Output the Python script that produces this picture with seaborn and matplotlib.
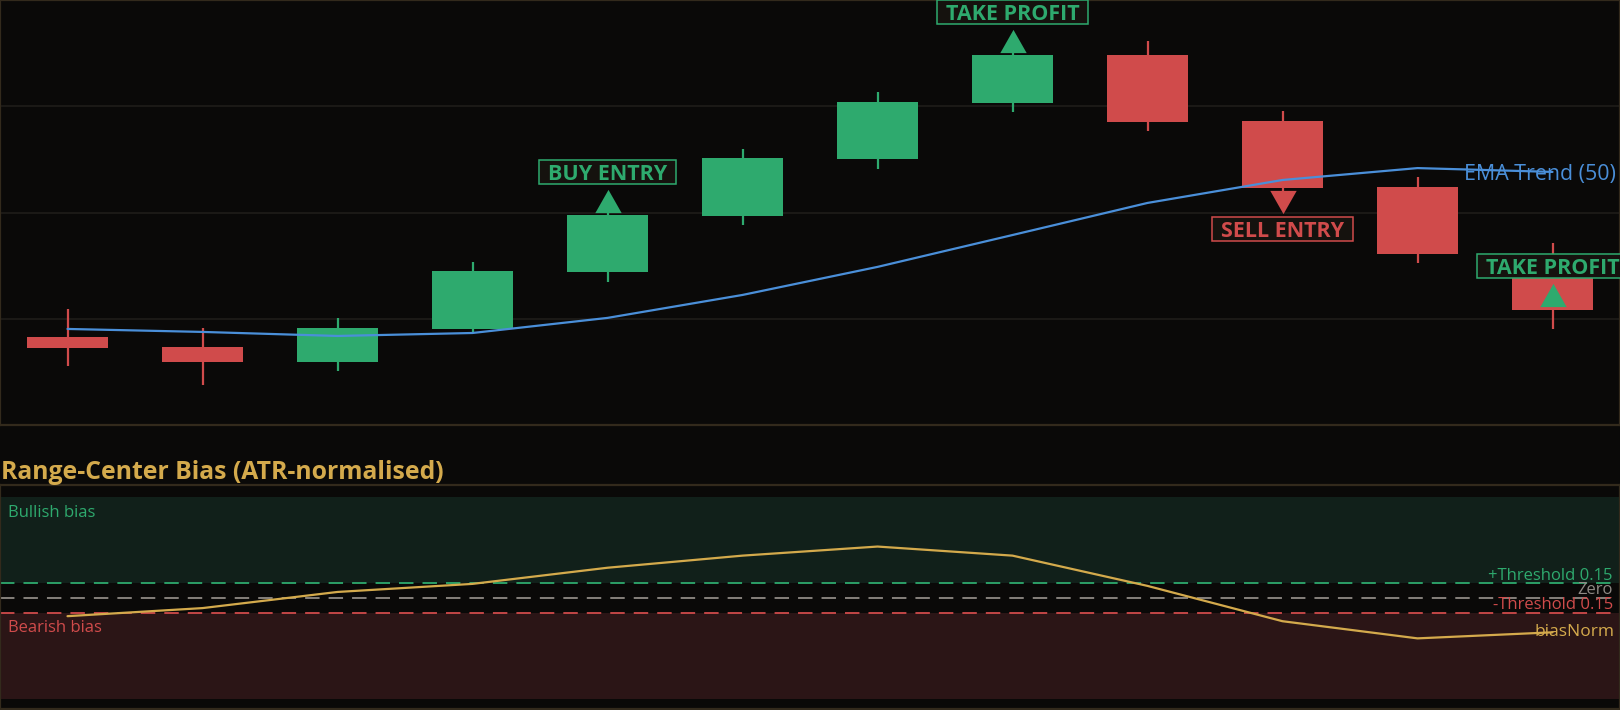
import numpy as np
import pandas as pd
import matplotlib
matplotlib.use("Agg")
import matplotlib.pyplot as plt
import matplotlib.transforms as mtransforms
from matplotlib.patches import Rectangle
from matplotlib.path import Path
import seaborn as sns

# ---------------- data ----------------
bar_index = list(range(12))
candle_open = [104.14, 103.67, 102.96, 104.52, 107.20, 109.84, 112.52, 115.15, 117.41, 114.31, 111.20, 106.92]
candle_high = [105.46, 104.56, 105.04, 107.67, 110.12, 112.99, 115.67, 117.65, 118.07, 114.78, 111.67, 108.56]
candle_low = [102.78, 101.88, 102.54, 104.33, 106.73, 109.41, 112.05, 114.73, 113.84, 110.96, 107.62, 104.52]
candle_close = [103.62, 102.96, 104.56, 107.25, 109.88, 112.56, 115.20, 117.41, 114.26, 111.15, 108.05, 105.41]
ema_trend = [104.52, 104.38, 104.19, 104.33, 105.04, 106.12, 107.44, 108.94, 110.45, 111.53, 112.09, 111.91]
bias_norm = [-0.18, -0.10, 0.06, 0.14, 0.30, 0.42, 0.51, 0.42, 0.12, -0.23, -0.40, -0.34]
signal_index = [4, 7, 9, 11]
signal_label = ["BUY ENTRY", "TAKE PROFIT", "SELL ENTRY", "TAKE PROFIT"]
signal_side = ["long", "long", "short", "long"]
signal_price = [110.56, 118.09, 110.49, 106.14]
threshold = 0.15
price_grid = [105, 110, 115]

# ---------------- style ----------------
BG = "#0a0908"
SPINE = "#332a1c"
GREEN = "#2eaa6e"
RED = "#d04b4b"
BLUE = "#4a8fd9"
GOLD = "#d4aa4c"
GRAY = "#8f8a85"

sns.set_theme(style="dark")
plt.rcParams["font.family"] = ["Open Sans", "DejaVu Sans"]

fig = plt.figure(figsize=(16.2, 7.1), dpi=100, facecolor=BG)
ax = fig.add_axes([0.0, 1 - 425 / 710, 1.0, 425 / 710])
axb = fig.add_axes([0.0, 1 / 710, 1.0, 224 / 710])

for a in (ax, axb):
    a.set_facecolor(BG)
    for s in a.spines.values():
        s.set_color(SPINE)
        s.set_linewidth(1.6)
    a.set_xticks([])
    a.set_yticks([])
    a.grid(False)

# ---------------- price panel ----------------
ax.set_xlim(-0.5, 11.5)
ax.set_ylim(100, 120)
for g in price_grid:
    ax.axhline(g, color="#1f1d1a", lw=1.2, zorder=0)

df = pd.DataFrame({"i": bar_index, "o": candle_open, "h": candle_high,
                   "l": candle_low, "c": candle_close, "ema": ema_trend})
up = df["c"] >= df["o"]
cols = np.where(up, GREEN, RED)
ax.vlines(df["i"], df["l"], df["h"], colors=cols, lw=1.6, zorder=2)
ax.bar(df["i"], (df["c"] - df["o"]).abs(), bottom=df[["o", "c"]].min(axis=1),
       width=0.605, color=cols, linewidth=0, zorder=3)

sns.lineplot(x="i", y="ema", data=df, ax=ax, color=BLUE, lw=1.6, zorder=4)
ax.set_xlabel("")
ax.set_ylabel("")
ax.annotate("EMA Trend (50)", xy=(1, ema_trend[-1]),
            xycoords=mtransforms.blended_transform_factory(ax.transAxes, ax.transData),
            xytext=(-4, -3), textcoords="offset pixels", ha="right", va="center",
            color=BLUE, fontsize=15.4, zorder=5)

tri = Path([(-1, -0.88), (1, -0.88), (0, 0.88), (-1, -0.88)])
tri_dn = Path([(-1, 0.88), (1, 0.88), (0, -0.88), (-1, 0.88)])
label_texts = []
for idx, lab, side, p in zip(signal_index, signal_label, signal_side, signal_price):
    c = GREEN if side == "long" else RED
    ax.scatter([idx], [p], marker=tri if side == "long" else tri_dn, s=19 ** 2,
               color=c, linewidths=0, zorder=6)
    dy = 29 if side == "long" else -27
    t = ax.annotate(lab, xy=(idx, p), xytext=(0, dy - 8), textcoords="offset pixels",
                    ha="center", va="baseline", color=c, fontsize=15.5, fontweight="bold",
                    annotation_clip=False, zorder=8)
    t.set_clip_path(ax.patch)
    label_texts.append((t, idx, p, dy, c))

# boxes around signal labels, sized from rendered text
fig.canvas.draw()
renderer = fig.canvas.get_renderer()
for t, idx, p, dy, c in label_texts:
    bb = t.get_window_extent(renderer)
    cx, cy = ax.transData.transform((idx, p))
    cy += dy
    w = bb.width + 18
    h = 24
    r = Rectangle((cx - w / 2, cy - h / 2), w, h, transform=mtransforms.IdentityTransform(),
                  facecolor="#15120e", edgecolor=c, lw=1.1, zorder=7)
    r.set_clip_path(ax.patch)
    ax.add_artist(r)

# ---------------- bias panel ----------------
axb.set_xlim(-0.5, 11.5)
axb.set_ylim(-1.1, 1.12)
axb.axhspan(threshold, 1.0, color="#11201a", lw=0, zorder=0)
axb.axhspan(-1.0, -threshold, color="#2b1516", lw=0, zorder=0)
axb.axhline(threshold, color=GREEN, lw=1.3, ls=(0, (8, 5)), zorder=1)
axb.axhline(0, color=GRAY, lw=1.3, ls=(0, (8, 5)), zorder=1)
axb.axhline(-threshold, color=RED, lw=1.3, ls=(0, (8, 5)), zorder=1)

bdf = pd.DataFrame({"i": bar_index, "bias": bias_norm})
sns.lineplot(x="i", y="bias", data=bdf, ax=axb, color=GOLD, lw=1.6, zorder=3)
axb.set_xlabel("")
axb.set_ylabel("")

bt = mtransforms.blended_transform_factory(axb.transAxes, axb.transData)
axb.annotate("Bullish bias", xy=(0, 1.0), xycoords=bt, xytext=(8, -8),
             textcoords="offset pixels", ha="left", va="top", color=GREEN, fontsize=12)
axb.annotate("Bearish bias", xy=(0, -threshold), xycoords=bt, xytext=(8, -7),
             textcoords="offset pixels", ha="left", va="top", color=RED, fontsize=12)
axb.annotate(f"+Threshold {threshold:.2f}", xy=(1, threshold), xycoords=bt, xytext=(-7, 3),
             textcoords="offset pixels", ha="right", va="baseline", color=GREEN, fontsize=12)
axb.annotate("Zero", xy=(1, 0), xycoords=bt, xytext=(-7, 4),
             textcoords="offset pixels", ha="right", va="baseline", color=GRAY, fontsize=12)
axb.annotate(f"-Threshold {threshold:.2f}", xy=(1, -threshold), xycoords=bt, xytext=(-7, 4),
             textcoords="offset pixels", ha="right", va="baseline", color=RED, fontsize=12)
axb.annotate("biasNorm", xy=(1, bias_norm[-1]), xycoords=bt, xytext=(-5, 0),
             textcoords="offset pixels", ha="right", va="center", color=GOLD, fontsize=12.5)

fig.text(0.0005, 1 - 479 / 710, "Range-Center Bias (ATR-normalised)", ha="left",
         va="baseline", color=GOLD, fontsize=17.8, fontweight="bold")

fig.savefig("out.png", dpi=100, facecolor=BG)
